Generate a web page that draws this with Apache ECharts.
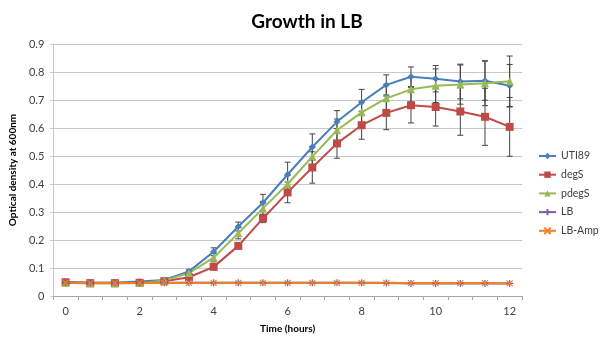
<!DOCTYPE html>
<html><head><meta charset="utf-8">
<script src="https://cdn.jsdelivr.net/npm/echarts@6/dist/echarts.min.js"></script>
<style>html,body{margin:0;padding:0;background:#fff}#c{width:600px;height:339px}</style>
</head><body><div id="c"></div>
<script>
const times = ['0','0.67','1.33','2','2.67','3.33','4','4.67','5.33','6','6.67','7.33','8','8.67','9.33','10','10.67','11.33','12'];
const uti89 = [0.050,0.047,0.047,0.052,0.057,0.088,0.158,0.248,0.333,0.434,0.532,0.622,0.692,0.754,0.783,0.776,0.766,0.769,0.751];
const uti89Err = [0.002,0.002,0.002,0.003,0.004,0.006,0.014,0.016,0.030,0.044,0.047,0.040,0.046,0.036,0.035,0.047,0.062,0.070,0.076];
const degS = [0.049,0.046,0.046,0.047,0.053,0.067,0.104,0.179,0.277,0.370,0.459,0.545,0.610,0.654,0.681,0.675,0.659,0.640,0.604];
const degSErr = [0.002,0.002,0.002,0.002,0.003,0.004,0.006,0.010,0.015,0.037,0.056,0.053,0.050,0.060,0.063,0.068,0.085,0.102,0.105];
const pdegS = [0.047,0.045,0.045,0.046,0.055,0.082,0.137,0.224,0.313,0.400,0.498,0.592,0.656,0.706,0.738,0.751,0.755,0.760,0.767];
const pdegSErr = [0.002,0.002,0.002,0.002,0.003,0.005,0.015,0.020,0.025,0.030,0.035,0.040,0.040,0.050,0.045,0.060,0.070,0.080,0.090];
const lb = [0.047,0.047,0.047,0.047,0.047,0.047,0.047,0.047,0.047,0.047,0.047,0.047,0.047,0.046,0.045,0.045,0.045,0.045,0.045];
const lbAmp = [0.047,0.046,0.046,0.046,0.046,0.047,0.047,0.047,0.047,0.047,0.047,0.047,0.047,0.047,0.046,0.046,0.046,0.046,0.045];

const names = ['UTI89','degS','pdegS','LB','LB-Amp'];
const colors = ['#4a7ebb','#be4b48','#98b954','#7d60a0','#f4801f'];
const plusPath = 'path://M5,0L5,10M0,5L10,5';
const xPath = 'path://M0,0L10,10M10,0L0,10';
const symbols = ['diamond','rect','triangle',plusPath,xPath];
const sizes = [7,8,8,7,6];
const vals = [uti89,degS,pdegS,lb,lbAmp];

function errData(v,e){return v.map((y,i)=>[i,y-e[i],y+e[i]]);}
function errSeries(v,e){
  return {type:'custom',silent:true,z:1,data:errData(v,e),
    renderItem:function(params,api){
      const x=api.value(0);
      const lo=api.coord([x,api.value(1)]);
      const hi=api.coord([x,api.value(2)]);
      const w=3;
      const st={stroke:'#444',lineWidth:1};
      return {type:'group',children:[
        {type:'line',shape:{x1:lo[0],y1:lo[1],x2:hi[0],y2:hi[1]},style:st},
        {type:'line',shape:{x1:lo[0]-w,y1:lo[1],x2:lo[0]+w,y2:lo[1]},style:st},
        {type:'line',shape:{x1:hi[0]-w,y1:hi[1],x2:hi[0]+w,y2:hi[1]},style:st}
      ]};
    }};
}

const series = [
  errSeries(uti89,uti89Err),
  errSeries(degS,degSErr),
  errSeries(pdegS,pdegSErr)
];
names.forEach((n,k)=>{
  const isPath = k>=3;
  series.push({name:n,type:'line',data:vals[k],symbol:symbols[k],symbolSize:sizes[k],z:3,
    showAllSymbol:true,
    lineStyle:{color:colors[k],width:2},
    itemStyle:{color:colors[k],borderColor:colors[k],borderWidth:isPath?1.2:0}
  });
});

const chart = echarts.init(document.getElementById('c'),null,{renderer:'canvas'});
chart.setOption({
  animation:false,
  backgroundColor:'#fff',
  title:{text:'Growth in LB',left:302,textAlign:'center',top:7,
    textStyle:{fontFamily:'Lato',fontWeight:'bold',fontSize:19,color:'#000'}},
  legend:{orient:'vertical',left:538,top:150,padding:0,itemWidth:17,itemHeight:8,itemGap:6.7,
    data:names,
    textStyle:{fontFamily:'Lato',fontSize:10.5,lineHeight:12,color:'#404040',overflow:'none'}},
  grid:{left:52,right:78,top:44,bottom:34},
  xAxis:{type:'category',data:times,boundaryGap:true,
    name:'Time (hours)',nameLocation:'middle',nameGap:28,
    nameTextStyle:{fontFamily:'Lato',fontWeight:'bold',fontSize:10,color:'#000'},
    axisLine:{lineStyle:{color:'#a6a6a6'}},
    axisTick:{show:true,interval:0,alignWithLabel:false,length:4,lineStyle:{color:'#a6a6a6'}},
    axisLabel:{interval:2,margin:10,fontFamily:'Lato',fontSize:11,color:'#404040',
      formatter:function(v){return String(Math.round(parseFloat(v)));}},
    splitLine:{show:false}},
  yAxis:{type:'value',min:0,max:0.9,interval:0.1,
    name:'Optical density at 600nm',nameLocation:'middle',nameGap:25,
    nameTextStyle:{fontFamily:'Lato',fontWeight:'bold',fontSize:10,color:'#000'},
    axisLine:{show:true,lineStyle:{color:'#c8c8c8'}},
    axisTick:{show:true,length:3,lineStyle:{color:'#c8c8c8'}},
    axisLabel:{margin:9,fontFamily:'Lato',fontSize:11,color:'#404040',
      formatter:function(v){return v===0?'0':v.toFixed(1);}},
    splitLine:{lineStyle:{color:'#c8c8c8'}}},
  series:series
});
</script></body></html>
